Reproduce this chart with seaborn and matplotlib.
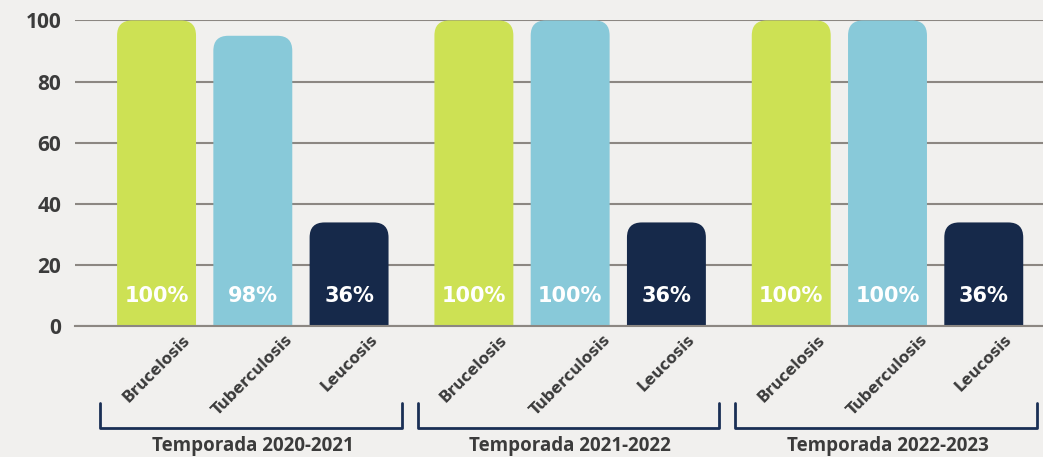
import pandas as pd
import seaborn as sns
import matplotlib.pyplot as plt
from matplotlib.patches import FancyBboxPatch

temporadas = ["Temporada 2020-2021", "Temporada 2021-2022", "Temporada 2022-2023"]
enfermedades = ["Brucelosis", "Tuberculosis", "Leucosis"]
# alturas de barra tal como se dibujan
brucelosis = [100, 100, 100]
tuberculosis = [95, 100, 100]
leucosis = [34, 34, 34]
# etiquetas impresas dentro de las barras
etiq_brucelosis = ["100%", "100%", "100%"]
etiq_tuberculosis = ["98%", "100%", "100%"]
etiq_leucosis = ["36%", "36%", "36%"]
colores = ["#cde154", "#88c9d9", "#16294a"]

df = pd.DataFrame({
    "temporada": temporadas * 3,
    "enfermedad": [e for e in enfermedades for _ in temporadas],
    "valor": brucelosis + tuberculosis + leucosis,
})
etiquetas = [etiq_brucelosis, etiq_tuberculosis, etiq_leucosis]

sns.set_style("white")
plt.rcParams["font.family"] = ["Open Sans", "DejaVu Sans"]
fondo = "#f1f0ee"
texto = "#3b3b3b"

fig = plt.figure(figsize=(10.43, 4.57), dpi=100, facecolor=fondo)
ax = fig.add_axes([0.072, 0.2856, 0.928, 0.6696], facecolor=fondo)

sns.barplot(data=df, x="temporada", y="valor", hue="enfermedad",
            order=temporadas, hue_order=enfermedades, palette=colores,
            saturation=1, width=0.91, gap=0.18, legend=False, ax=ax)

ax.set_ylim(0, 100)
ax.set_xlim(-0.56, 2.49)

# barras con esquinas superiores redondeadas
rx, ry = 0.047, 4.9
centros, nombres = [], []
for cont, etq, nombre in zip(ax.containers, etiquetas, enfermedades):
    for p, t in zip(cont.patches, etq):
        x, w, h = p.get_x(), p.get_width(), p.get_height()
        fc = p.get_facecolor()
        p.remove()
        ax.add_patch(FancyBboxPatch((x, -ry), w, h + ry,
                                    boxstyle=f"round,pad=0,rounding_size={rx}",
                                    mutation_aspect=ry / rx, fc=fc, ec="none", zorder=2))
        ax.text(x + w / 2, 10, t, ha="center", va="center", color="white",
                fontsize=15, fontweight="bold", family=["DejaVu Sans"], zorder=3)
        centros.append(x + w / 2)
        nombres.append(nombre)

ax.set_xticks(centros)
ax.set_xticklabels(nombres, rotation=45, ha="center", fontsize=11,
                   fontweight="bold", color=texto, family=["DejaVu Sans"])
ax.set_yticks(range(0, 101, 20))
ax.set_yticklabels([str(v) for v in range(0, 101, 20)], fontsize=15,
                   fontweight="bold", color=texto)
ax.tick_params(axis="x", length=0, pad=4)
ax.tick_params(axis="y", length=0, pad=10)
ax.yaxis.grid(True, color="#8c8782", lw=1.5)
ax.set_axisbelow(True)
for s in ["top", "right", "left"]:
    ax.spines[s].set_visible(False)
ax.spines["bottom"].set_color("#8c8782")
ax.spines["bottom"].set_linewidth(1.5)
ax.set_xlabel("")
ax.set_ylabel("")

# corchetes por temporada
trans = ax.get_xaxis_transform()
for i, temp in enumerate(temporadas):
    x0, x1 = i - 0.48, i + 0.47
    ax.plot([x0, x0, x1, x1], [-0.25, -0.332, -0.332, -0.25], transform=trans,
            color="#1a2f55", lw=2, clip_on=False)
    ax.text(i, -0.39, temp, transform=trans, ha="center", va="center",
            fontsize=13.5, fontweight="bold", color=texto)

fig.savefig("out.png", dpi=100, facecolor=fondo)
